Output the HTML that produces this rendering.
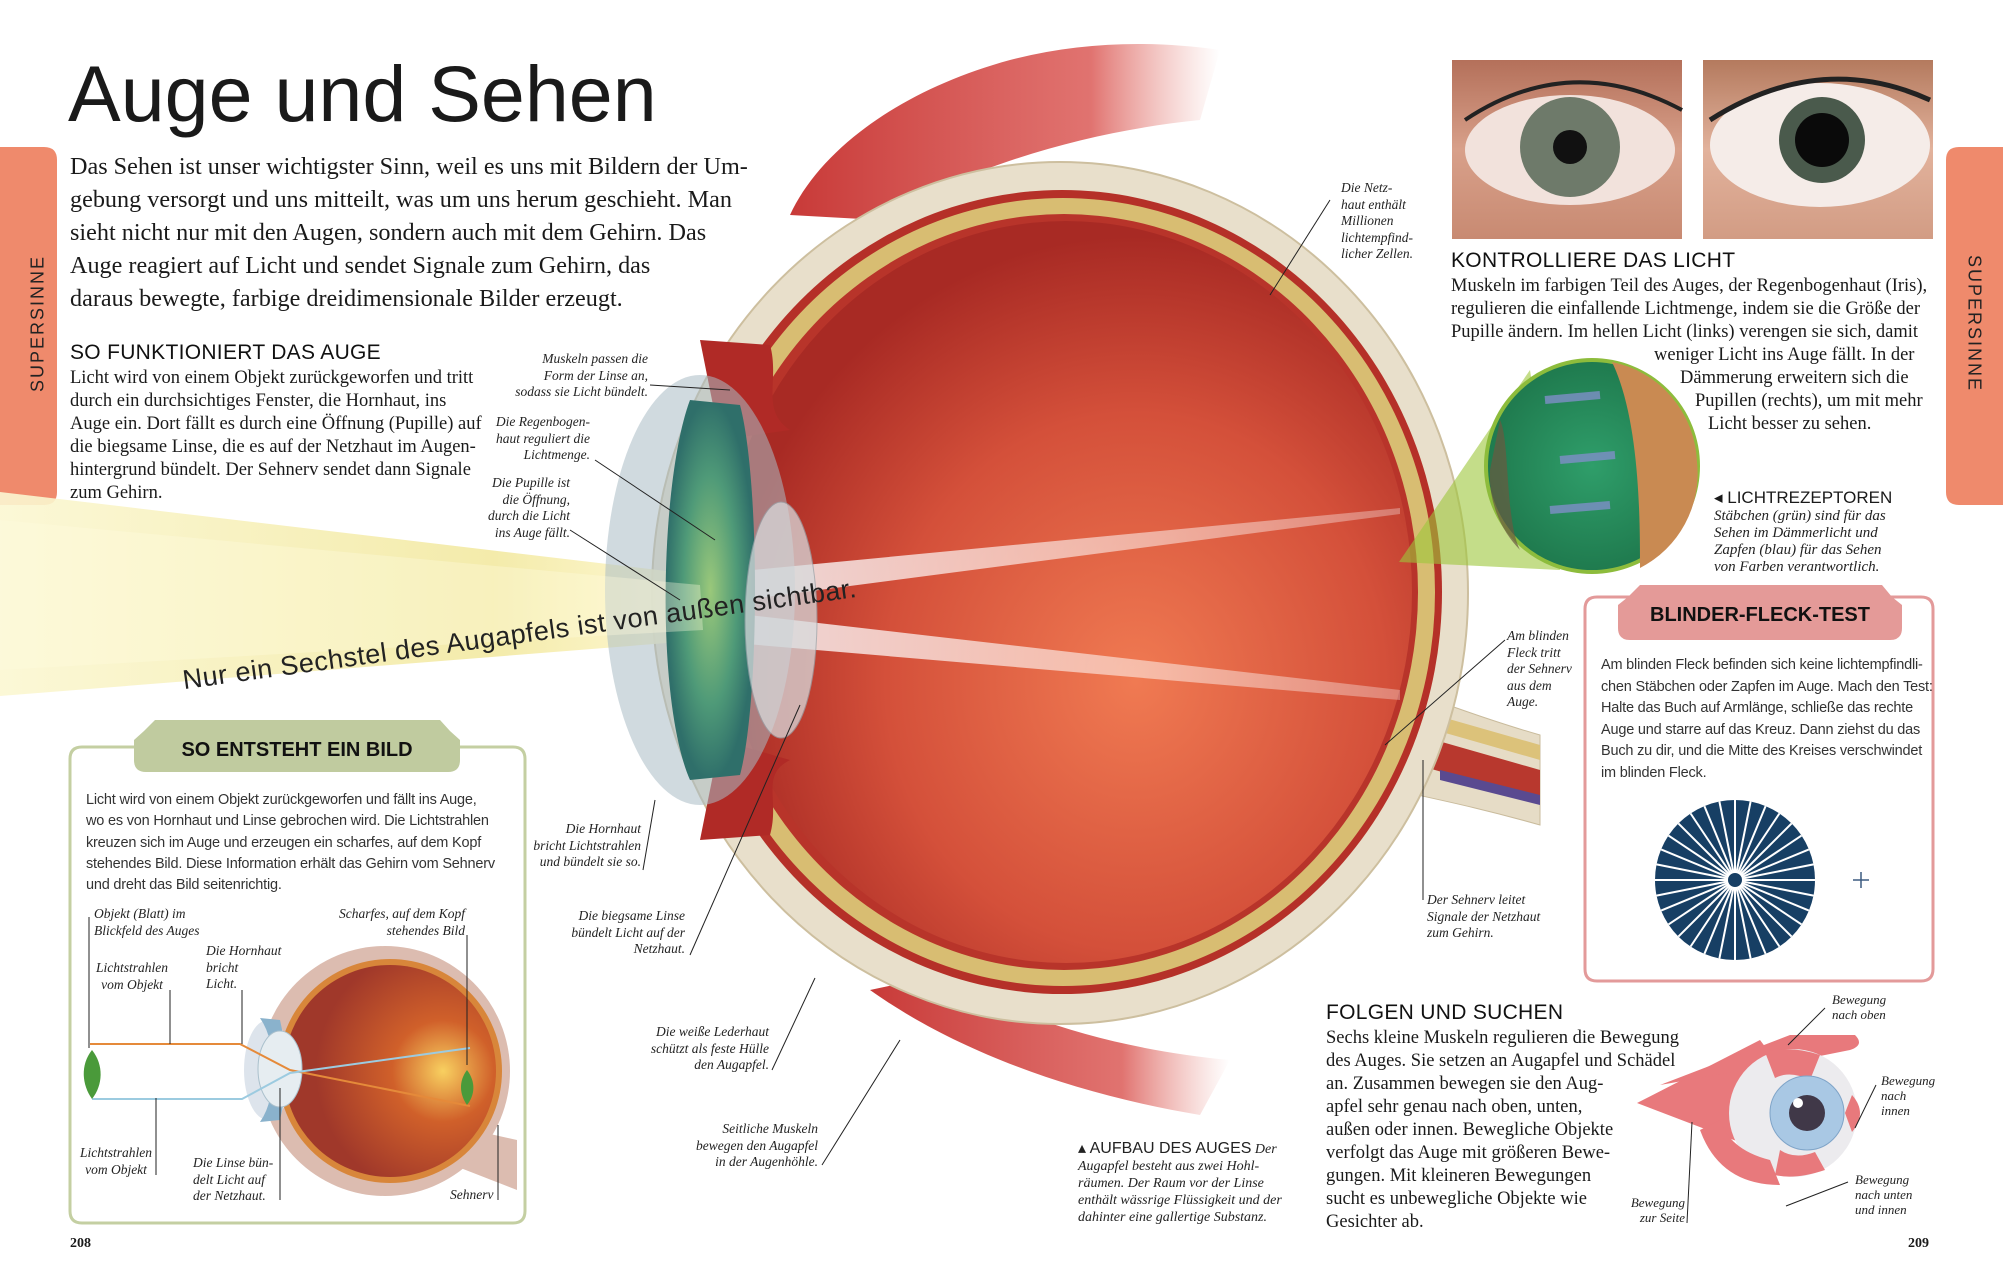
<!DOCTYPE html>
<html><head><meta charset="utf-8">
<style>
*{margin:0;padding:0;box-sizing:border-box}
body{width:2003px;height:1280px;background:#fff;position:relative;overflow:hidden;font-family:"Liberation Serif",serif;color:#1a1a1a}
.a{position:absolute}
.sans{font-family:"Liberation Sans",sans-serif}
.lab{font-family:"Liberation Serif",serif;font-style:italic;font-size:13.5px;line-height:16.5px;color:#222}
.r{text-align:right}
.h{font-family:"Liberation Sans",sans-serif;font-size:21px;letter-spacing:0.3px;color:#111}
.body{font-size:18.5px;line-height:23px}
</style></head><body>

<svg class="a" style="left:0;top:0" width="2003" height="1280" viewBox="0 0 2003 1280">
<defs>
<radialGradient id="ch" cx="0.6" cy="0.62" r="0.6">
<stop offset="0" stop-color="#f07a52"/><stop offset="0.6" stop-color="#d4503a"/><stop offset="1" stop-color="#a82a24"/></radialGradient>
<linearGradient id="beam" x1="0" x2="1" y1="0" y2="0">
<stop offset="0" stop-color="#fbf7d2" stop-opacity="0.9"/><stop offset="0.7" stop-color="#f3eaa6" stop-opacity="0.95"/><stop offset="1" stop-color="#fff8d0" stop-opacity="0.9"/></linearGradient>
<linearGradient id="mus" x1="0" x2="1"><stop offset="0" stop-color="#c83a38"/><stop offset="0.7" stop-color="#d9504c" stop-opacity="0.8"/><stop offset="1" stop-color="#e78a80" stop-opacity="0"/></linearGradient>
<radialGradient id="iris" cx="0.5" cy="0.5" r="0.5"><stop offset="0" stop-color="#9ac87a"/><stop offset="0.6" stop-color="#4f9a78"/><stop offset="1" stop-color="#2f6f6a"/></radialGradient>
<linearGradient id="wb" x1="0" x2="1"><stop offset="0" stop-color="#fff" stop-opacity="0.85"/><stop offset="1" stop-color="#fff" stop-opacity="0.3"/></linearGradient>
<radialGradient id="micro" cx="0.5" cy="0.5" r="0.5"><stop offset="0" stop-color="#2f9e6a"/><stop offset="1" stop-color="#1f7a4e"/></radialGradient>
<linearGradient id="skin1" x1="0" y1="0" x2="0" y2="1"><stop offset="0" stop-color="#b4705a"/><stop offset="0.5" stop-color="#d8a08a"/><stop offset="1" stop-color="#c88a72"/></linearGradient>
<linearGradient id="skin2" x1="0" y1="0" x2="0" y2="1"><stop offset="0" stop-color="#b47a5e"/><stop offset="0.5" stop-color="#e2b29c"/><stop offset="1" stop-color="#d29c84"/></linearGradient>
<radialGradient id="sm" cx="0.75" cy="0.5" r="0.6"><stop offset="0" stop-color="#f8d060"/><stop offset="0.4" stop-color="#d0602a"/><stop offset="1" stop-color="#a0382a"/></radialGradient>
</defs>

<path d="M0 147 H44 Q57 147 57 160 V492 Q57 505 44 505 H0 Z" fill="#ef8a6c"/>
<path d="M2003 147 H1959 Q1946 147 1946 160 V492 Q1946 505 1959 505 H2003 Z" fill="#ef8a6c"/>

<path d="M790 215 C820 150 900 90 1010 60 C1080 42 1150 40 1220 50 L1200 120 C1100 130 980 160 880 220 Z" fill="url(#mus)"/>
<path d="M870 990 C940 1040 1050 1090 1200 1115 L1230 1060 C1120 1050 1020 1020 940 975 Z" fill="url(#mus)"/>

<path d="M1400 690 C1440 700 1470 715 1540 735 L1540 825 C1480 808 1440 800 1395 790 Z" fill="#e6dcc6" stroke="#c9bb9c"/>
<path d="M1400 705 L1540 745 L1540 760 L1400 720 Z" fill="#dcc27a"/>
<path d="M1400 730 L1540 770 L1540 800 L1400 760 Z" fill="#b8382e"/>
<path d="M1440 770 L1540 795 L1540 805 L1440 780 Z" fill="#5a4a90"/>

<ellipse cx="1060" cy="593" rx="408" ry="431" fill="#e8dfcb" stroke="#cdbf9f" stroke-width="2"/>
<ellipse cx="1062" cy="592" rx="380" ry="402" fill="#b53028"/>
<ellipse cx="1063" cy="592" rx="372" ry="394" fill="#d8bd72"/>
<ellipse cx="1064" cy="592" rx="354" ry="378" fill="#b8342a"/>
<ellipse cx="1066" cy="592" rx="346" ry="371" fill="url(#ch)"/>

<path d="M700 340 L770 345 C780 380 760 410 790 430 L720 440 Z" fill="#b02a26"/>
<path d="M700 840 L770 835 C780 800 760 775 790 760 L720 740 Z" fill="#b02a26"/>

<polygon points="0,492 700,575 705,640 0,696" fill="url(#beam)"/>
<polygon points="700,575 1400,508 1400,514 705,605" fill="url(#wb)"/>
<polygon points="705,610 1400,690 1400,700 700,640" fill="url(#wb)"/>

<ellipse cx="700" cy="590" rx="95" ry="215" fill="#a9bcc4" opacity="0.55"/>
<path d="M690 400 C660 480 655 700 690 780 L740 775 C760 700 760 480 740 405 Z" fill="url(#iris)"/>
<ellipse cx="781" cy="620" rx="36" ry="118" fill="#d7dadc" opacity="0.75" stroke="#9aa4aa"/>
<polygon points="0,520 700,585 703,630 0,670" fill="#fffbe0" opacity="0.35"/>

<polygon points="1399,562 1530,370 1560,570" fill="#9cc63a" opacity="0.6"/>
<circle cx="1592" cy="466" r="106" fill="url(#micro)" stroke="#8dbc3c" stroke-width="4"/>
<path d="M1612 362 C1640 420 1640 520 1640 568 A106 106 0 0 0 1697 462 A106 106 0 0 0 1612 362 Z" fill="#c98a52"/>
<path d="M1500 420 C1510 440 1505 520 1520 550 A106 106 0 0 1 1490 470 Z" fill="#6a5a40" opacity="0.7"/>
<g stroke="#7f8fc8" stroke-width="8" opacity="0.8"><line x1="1545" y1="400" x2="1600" y2="395"/><line x1="1560" y1="460" x2="1615" y2="455"/><line x1="1550" y1="510" x2="1610" y2="505"/></g>

<rect x="1452" y="60" width="230" height="179" fill="url(#skin1)"/>
<ellipse cx="1570" cy="150" rx="105" ry="55" fill="#f2e2dc"/>
<circle cx="1570" cy="147" r="50" fill="#6e7a6a"/><circle cx="1570" cy="147" r="17" fill="#111"/>
<path d="M1465 120 Q1570 50 1682 110" stroke="#222" stroke-width="4" fill="none"/>
<rect x="1703" y="60" width="230" height="179" fill="url(#skin2)"/>
<ellipse cx="1820" cy="145" rx="110" ry="62" fill="#f5ece8"/>
<circle cx="1822" cy="140" r="43" fill="#4a5a4c"/><circle cx="1822" cy="140" r="27" fill="#0a0a0a"/>
<path d="M1710 120 Q1820 50 1930 100" stroke="#222" stroke-width="5" fill="none"/>

<g stroke="#222" stroke-width="1" fill="none">
<line x1="650" y1="385" x2="730" y2="390"/>
<line x1="595" y1="460" x2="715" y2="540"/>
<line x1="570" y1="530" x2="680" y2="600"/>
<line x1="1330" y1="200" x2="1270" y2="295"/>
<line x1="1505" y1="640" x2="1385" y2="745"/>
<line x1="1423" y1="900" x2="1423" y2="760"/>
<line x1="643" y1="870" x2="655" y2="800"/>
<line x1="690" y1="955" x2="800" y2="705"/>
<line x1="772" y1="1070" x2="815" y2="978"/>
<line x1="822" y1="1165" x2="900" y2="1040"/>
</g>

<path d="M1597 597 H1921 Q1933 597 1933 609 V969 Q1933 981 1921 981 H1597 Q1585 981 1585 969 V609 Q1585 597 1597 597 Z" fill="#fff" stroke="#e39a9a" stroke-width="3"/>
<path d="M1628 597 L1618 605 V628 Q1618 640 1630 640 H1890 Q1902 640 1902 628 V605 L1892 597 Z" fill="#e49a98"/>
<path d="M1628 597 L1640 585 H1882 L1892 597 Z" fill="#e49a98"/>
<circle cx="1735" cy="880" r="80" fill="#173f64"/>
<g id="sp" stroke="#fff" stroke-width="2"></g>
<circle cx="1735" cy="880" r="8" fill="#173f64" stroke="#fff" stroke-width="2"/>
<g stroke="#3c5a80" stroke-width="1.5"><line x1="1853" y1="880" x2="1869" y2="880"/><line x1="1861" y1="872" x2="1861" y2="888"/></g>

<path d="M82 747 H513 Q525 747 525 759 V1211 Q525 1223 513 1223 H82 Q70 1223 70 1211 V759 Q70 747 82 747 Z" fill="#fff" stroke="#c4cfa2" stroke-width="3"/>
<path d="M144 731 L134 740 V760 Q134 772 146 772 H448 Q460 772 460 760 V740 L450 731 Z" fill="#c0cb9f"/>
<path d="M144 731 L155 720 H440 L450 731 Z" fill="#c0cb9f"/>

<path d="M450 1125 L517 1140 L517 1190 L440 1160 Z" fill="#dcbcb0"/>
<circle cx="385" cy="1071" r="125" fill="#dcbcb0"/>
<path d="M250 1055 L280 1010 L290 1120 Z" fill="#dcbcb0"/>
<circle cx="390" cy="1071" r="112" fill="#d8863a"/>
<circle cx="390" cy="1071" r="106" fill="url(#sm)"/>
<ellipse cx="268" cy="1070" rx="24" ry="50" fill="#dde4ec"/>
<path d="M260 1018 Q275 1040 270 1070 Q275 1100 260 1122 L280 1120 Q292 1070 280 1020Z" fill="#8ab2cc"/>
<ellipse cx="280" cy="1069" rx="22" ry="38" fill="#e6edf1" stroke="#aac0cc"/>
<g fill="none" stroke-width="2"><path d="M90 1044 H240 L290 1070 L470 1106" stroke="#e58a3a"/><path d="M92 1099 H242 L290 1073 L470 1048" stroke="#9ccbe0"/></g>
<path d="M92 1050 C80 1065 82 1085 92 1099 C103 1085 104 1065 92 1050Z" fill="#4a9a3a"/>
<path d="M467 1070 C458 1082 460 1095 467 1105 C475 1095 476 1082 467 1070Z" fill="#4a9a3a"/>
<g stroke="#222" stroke-width="1"><line x1="89" y1="917" x2="89" y2="1048"/><line x1="170" y1="990" x2="170" y2="1044"/><line x1="242" y1="990" x2="242" y2="1044"/><line x1="467" y1="935" x2="467" y2="1065"/><line x1="156" y1="1098" x2="156" y2="1175"/><line x1="280" y1="1088" x2="280" y2="1200"/><line x1="498" y1="1125" x2="498" y2="1200"/></g>

<path d="M1637 1103 L1760 1040 L1790 1080 L1790 1130 L1760 1150 Z" fill="#e8797c"/>
<path d="M1660 1085 L1790 1035 L1855 1035 Q1865 1045 1850 1050 L1800 1060 Z" fill="#e8797c"/>
<circle cx="1793" cy="1113" r="64" fill="#ecebee"/>
<path d="M1765 1052 Q1790 1045 1820 1055 L1810 1080 Q1790 1070 1775 1078 Z" fill="#e8797c"/>
<path d="M1775 1175 Q1795 1180 1825 1170 L1815 1152 Q1795 1160 1780 1150 Z" fill="#e8797c"/>
<path d="M1700 1130 Q1720 1185 1780 1185 L1770 1160 Q1730 1150 1720 1120Z" fill="#e8797c"/>
<path d="M1852 1095 Q1868 1113 1852 1132 L1845 1113 Z" fill="#e8797c"/>
<circle cx="1807" cy="1113" r="37" fill="#a9c8e4" stroke="#7fa4c8"/>
<circle cx="1807" cy="1113" r="18" fill="#403848"/>
<circle cx="1798" cy="1103" r="5" fill="#fff"/>
<g stroke="#222" stroke-width="1"><line x1="1825" y1="1008" x2="1788" y2="1045"/><line x1="1876" y1="1085" x2="1855" y2="1128"/><line x1="1848" y1="1182" x2="1786" y2="1206"/><line x1="1687" y1="1223" x2="1692" y2="1122"/></g>
</svg>

<script>
(function(){var g=document.getElementById('sp'),s='';for(var i=0;i<32;i++){var a=i*Math.PI/16;s+='<line x1="1735" y1="880" x2="'+(1735+80*Math.cos(a)).toFixed(1)+'" y2="'+(880+80*Math.sin(a)).toFixed(1)+'"/>';}g.innerHTML=s;})();
</script>

<div class="a sans" style="left:-42px;top:313px;width:160px;text-align:center;color:#222;font-size:18px;letter-spacing:2px;transform:rotate(-90deg)">SUPERSINNE</div>
<div class="a sans" style="left:1894px;top:313px;width:160px;text-align:center;color:#222;font-size:18px;letter-spacing:2px;transform:rotate(90deg)">SUPERSINNE</div>

<div class="a sans" style="left:68px;top:48px;font-size:79px;color:#1a1a1a;letter-spacing:0px">Auge und Sehen</div>
<div class="a" style="left:70px;top:150px;font-size:24.2px;line-height:33px">Das Sehen ist unser wichtigster Sinn, weil es uns mit Bildern der Um-<br>gebung versorgt und uns mitteilt, was um uns herum geschieht. Man<br>sieht nicht nur mit den Augen, sondern auch mit dem Gehirn. Das<br>Auge reagiert auf Licht und sendet Signale zum Gehirn, das<br>daraus bewegte, farbige dreidimensionale Bilder erzeugt.</div>

<div class="a h" style="left:70px;top:341px">SO FUNKTIONIERT DAS AUGE</div>
<div class="a body" style="left:70px;top:367px">Licht wird von einem Objekt zurückgeworfen und tritt<br>durch ein durchsichtiges Fenster, die Hornhaut, ins<br>Auge ein. Dort fällt es durch eine Öffnung (Pupille) auf<br>die biegsame Linse, die es auf der Netzhaut im Augen-<br>hintergrund bündelt. Der Sehnerv sendet dann Signale<br>zum Gehirn.</div>

<div class="a lab r" style="right:1355px;top:351px">Muskeln passen die<br>Form der Linse an,<br>sodass sie Licht bündelt.</div>
<div class="a lab r" style="right:1413px;top:414px">Die Regenbogen-<br>haut reguliert die<br>Lichtmenge.</div>
<div class="a lab r" style="right:1433px;top:475px">Die Pupille ist<br>die Öffnung,<br>durch die Licht<br>ins Auge fällt.</div>
<div class="a lab" style="left:1341px;top:180px">Die Netz-<br>haut enthält<br>Millionen<br>lichtempfind-<br>licher Zellen.</div>
<div class="a lab" style="left:1507px;top:628px">Am blinden<br>Fleck tritt<br>der Sehnerv<br>aus dem<br>Auge.</div>
<div class="a lab" style="left:1427px;top:892px">Der Sehnerv leitet<br>Signale der Netzhaut<br>zum Gehirn.</div>
<div class="a lab r" style="right:1362px;top:821px">Die Hornhaut<br>bricht Lichtstrahlen<br>und bündelt sie so.</div>
<div class="a lab r" style="right:1318px;top:908px">Die biegsame Linse<br>bündelt Licht auf der<br>Netzhaut.</div>
<div class="a lab r" style="right:1234px;top:1024px">Die weiße Lederhaut<br>schützt als feste Hülle<br>den Augapfel.</div>
<div class="a lab r" style="right:1185px;top:1121px">Seitliche Muskeln<br>bewegen den Augapfel<br>in der Augenhöhle.</div>
<div class="a lab" style="left:1078px;top:1140px;font-size:14px;line-height:17px"><span class="sans" style="font-style:normal;font-size:16px">▴ AUFBAU DES AUGES</span> Der<br>Augapfel besteht aus zwei Hohl-<br>räumen. Der Raum vor der Linse<br>enthält wässrige Flüssigkeit und der<br>dahinter eine gallertige Substanz.</div>

<div class="a sans" style="left:185px;font-size:27px;letter-spacing:0.5px;transform:rotate(-7.8deg);transform-origin:left bottom;white-space:nowrap;color:#222;top:665px">Nur ein Sechstel des Augapfels ist von außen sichtbar.</div>

<div class="a h" style="left:1451px;top:249px">KONTROLLIERE DAS LICHT</div>
<div class="a body" style="left:1451px;top:275px">Muskeln im farbigen Teil des Auges, der Regenbogenhaut (Iris),<br>regulieren die einfallende Lichtmenge, indem sie die Größe der<br>Pupille ändern. Im hellen Licht (links) verengen sie sich, damit</div>
<div class="a body" style="left:1654px;top:344px">weniger Licht ins Auge fällt. In der</div>
<div class="a body" style="left:1680px;top:367px">Dämmerung erweitern sich die</div>
<div class="a body" style="left:1695px;top:390px">Pupillen (rechts), um mit mehr</div>
<div class="a body" style="left:1708px;top:413px">Licht besser zu sehen.</div>

<div class="a sans" style="left:1714px;top:488px;font-size:17px">◂ LICHTREZEPTOREN</div>
<div class="a lab" style="left:1714px;top:508px;font-size:15px;line-height:17px">Stäbchen (grün) sind für das<br>Sehen im Dämmerlicht und<br>Zapfen (blau) für das Sehen<br>von Farben verantwortlich.</div>

<div class="a sans" style="left:1618px;top:604px;width:284px;text-align:center;font-size:20px;font-weight:bold;color:#111">BLINDER-FLECK-TEST</div>
<div class="a sans" style="left:1601px;top:655px;font-size:14.5px;line-height:21.5px;color:#333;letter-spacing:-0.2px">Am blinden Fleck befinden sich keine lichtempfindli-<br>chen Stäbchen oder Zapfen im Auge. Mach den Test:<br>Halte das Buch auf Armlänge, schließe das rechte<br>Auge und starre auf das Kreuz. Dann ziehst du das<br>Buch zu dir, und die Mitte des Kreises verschwindet<br>im blinden Fleck.</div>

<div class="a h" style="left:1326px;top:1001px">FOLGEN UND SUCHEN</div>
<div class="a body" style="left:1326px;top:1027px">Sechs kleine Muskeln regulieren die Bewegung<br>des Auges. Sie setzen an Augapfel und Schädel<br>an. Zusammen bewegen sie den Aug-<br>apfel sehr genau nach oben, unten,<br>außen oder innen. Bewegliche Objekte<br>verfolgt das Auge mit größeren Bewe-<br>gungen. Mit kleineren Bewegungen<br>sucht es unbewegliche Objekte wie<br>Gesichter ab.</div>
<div class="a lab" style="left:1832px;top:992px;font-size:13px;line-height:15px">Bewegung<br>nach oben</div>
<div class="a lab" style="left:1881px;top:1073px;font-size:13px;line-height:15px">Bewegung<br>nach<br>innen</div>
<div class="a lab" style="left:1855px;top:1172px;font-size:13px;line-height:15px">Bewegung<br>nach unten<br>und innen</div>
<div class="a lab r" style="right:318px;top:1195px;font-size:13px;line-height:15px">Bewegung<br>zur Seite</div>

<div class="a sans" style="left:134px;top:739px;width:326px;text-align:center;font-size:20px;font-weight:bold;color:#111">SO ENTSTEHT EIN BILD</div>
<div class="a sans" style="left:86px;top:790px;font-size:14.5px;line-height:21.3px;color:#333;letter-spacing:-0.2px">Licht wird von einem Objekt zurückgeworfen und fällt ins Auge,<br>wo es von Hornhaut und Linse gebrochen wird. Die Lichtstrahlen<br>kreuzen sich im Auge und erzeugen ein scharfes, auf dem Kopf<br>stehendes Bild. Diese Information erhält das Gehirn vom Sehnerv<br>und dreht das Bild seitenrichtig.</div>
<div class="a lab" style="left:94px;top:906px">Objekt (Blatt) im<br>Blickfeld des Auges</div>
<div class="a lab r" style="right:1538px;top:906px">Scharfes, auf dem Kopf<br>stehendes Bild</div>
<div class="a lab" style="left:206px;top:943px">Die Hornhaut<br>bricht<br>Licht.</div>
<div class="a lab" style="left:96px;top:960px;text-align:center">Lichtstrahlen<br>vom Objekt</div>
<div class="a lab" style="left:80px;top:1145px;text-align:center">Lichtstrahlen<br>vom Objekt</div>
<div class="a lab" style="left:193px;top:1155px">Die Linse bün-<br>delt Licht auf<br>der Netzhaut.</div>
<div class="a lab" style="left:450px;top:1187px">Sehnerv</div>

<div class="a" style="left:70px;top:1236px;font-size:14px;font-weight:bold">208</div>
<div class="a" style="left:1908px;top:1236px;font-size:14px;font-weight:bold">209</div>
</body></html>
